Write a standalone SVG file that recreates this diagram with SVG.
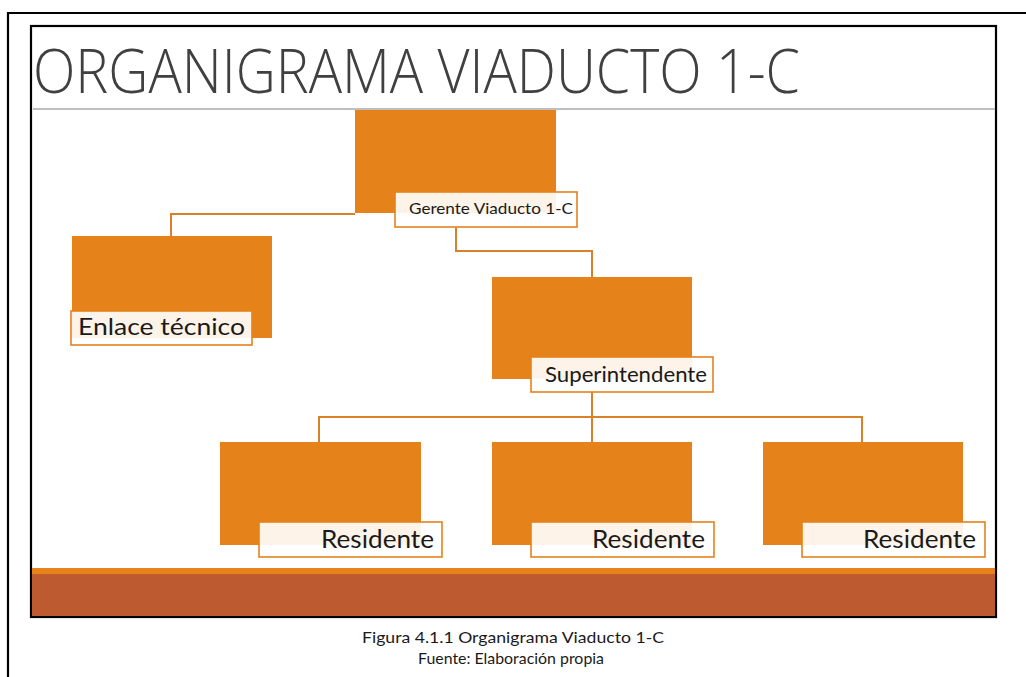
<svg xmlns="http://www.w3.org/2000/svg" width="1026" height="677" viewBox="0 0 1026 677">
<style>
.box{fill:#E5821A;}
.lbl{fill:#ffffff;fill-opacity:0.9;stroke:#E5821A;stroke-width:1.6;}
.conn{fill:none;stroke:#D8802A;stroke-width:2;}
.t{font-family:Lato,"Open Sans","Liberation Sans",sans-serif;fill:#1a1a1a;}
</style>
<rect width="1026" height="677" fill="#ffffff"/>
<!-- outer frame -->
<path d="M8 677 V13 H1026" fill="none" stroke="#000" stroke-width="2.2"/>
<!-- slide frame -->
<rect x="31" y="26" width="965" height="591" fill="#ffffff" stroke="#000" stroke-width="2.2"/>
<text x="33" y="93" font-family="'Open Sans','Liberation Sans',sans-serif" font-weight="300" font-size="61" fill="#404040" textLength="767" lengthAdjust="spacingAndGlyphs">ORGANIGRAMA VIADUCTO 1-C</text>
<line x1="33" y1="109" x2="995" y2="109" stroke="#BFBFBF" stroke-width="2"/>
<!-- bottom band -->
<rect x="32" y="568" width="963" height="6" fill="#E5821A"/>
<rect x="32" y="574" width="963" height="42" fill="#BE5A2F"/>
<!-- connectors -->
<g id="connectors">
<path class="conn" d="M355 214 H171 V236"/>
<path class="conn" d="M456 227 V251 H592 V277"/>
<path class="conn" d="M592 392 V442"/>
<path class="conn" d="M319 442 V417 H862 V442"/>
</g>
<g id="gerente">
<rect class="box" x="355" y="110" width="201" height="103"/>
<rect class="lbl" x="395" y="192" width="182" height="35"/>
<text class="t" x="409" y="214" font-size="16" textLength="164" lengthAdjust="spacingAndGlyphs">Gerente Viaducto 1-C</text>
</g>
<g id="enlace">
<rect class="box" x="72" y="236" width="200" height="102"/>
<rect class="lbl" x="71" y="311" width="181" height="34"/>
<text class="t" x="78" y="335" font-size="23" textLength="167" lengthAdjust="spacingAndGlyphs">Enlace técnico</text>
</g>
<g id="superintendente">
<rect class="box" x="492" y="277" width="200" height="102"/>
<rect class="lbl" x="531" y="357" width="182" height="35"/>
<text class="t" x="545" y="382" font-size="22" textLength="162" lengthAdjust="spacingAndGlyphs">Superintendente</text>
</g>
<g id="residente1">
<rect class="box" x="220" y="442" width="201" height="103"/>
<rect class="lbl" x="259" y="522" width="183" height="35"/>
<text class="t" x="321" y="548" font-size="25" textLength="113" lengthAdjust="spacingAndGlyphs">Residente</text>
</g>
<g id="residente2">
<rect class="box" x="492" y="442" width="200" height="103"/>
<rect class="lbl" x="531" y="522" width="183" height="35"/>
<text class="t" x="592" y="548" font-size="25" textLength="113" lengthAdjust="spacingAndGlyphs">Residente</text>
</g>
<g id="residente3">
<rect class="box" x="763" y="442" width="200" height="103"/>
<rect class="lbl" x="802" y="522" width="183" height="35"/>
<text class="t" x="863" y="548" font-size="25" textLength="113" lengthAdjust="spacingAndGlyphs">Residente</text>
</g>
<text class="t" x="513" y="643" font-size="16" text-anchor="middle" textLength="302" lengthAdjust="spacingAndGlyphs">Figura 4.1.1 Organigrama Viaducto 1-C</text>
<text class="t" x="511" y="664" font-size="16" text-anchor="middle" textLength="186" lengthAdjust="spacingAndGlyphs">Fuente: Elaboración propia</text>
</svg>
